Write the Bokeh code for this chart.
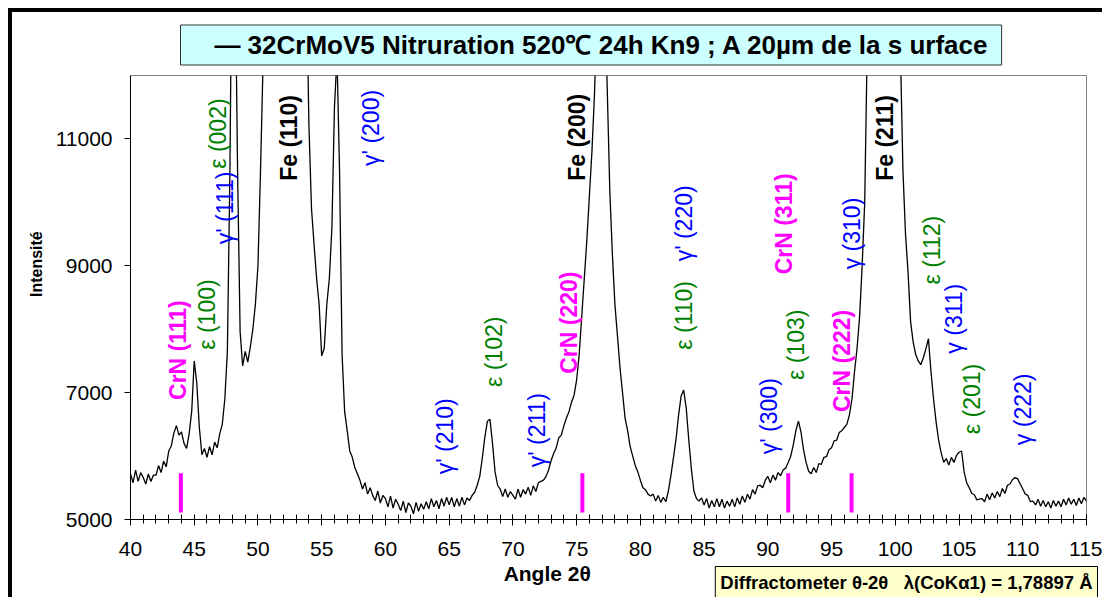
import math
from bokeh.plotting import figure
from bokeh.models import Range1d, FixedTicker, Title, ColumnDataSource
from bokeh.core.properties import value
from bokeh.embed import file_html
from bokeh.resources import INLINE

# ---------------- data ----------------
# intensity every 0.2 degree, one row per degree, from 40.0 to 115.0
ANGLE_FIRST = 40.0
ANGLE_STEP = 0.2
INTENSITY_ROWS = [
    [5720, 5580, 5780, 5600, 5740],   # 40
    [5660, 5560, 5720, 5600, 5700],   # 41
    [5700, 5850, 5740, 5920, 5830],   # 42
    [6080, 6160, 6360, 6480, 6330],   # 43
    [6380, 6200, 6120, 6350, 6700],   # 44
    [7500, 7150, 6450, 6020, 6120],   # 45
    [5980, 6150, 6020, 6220, 6130],   # 46
    [6350, 6500, 6900, 7650, 10500],  # 47
    [15000, 14000, 10500, 7960, 7420],  # 48
    [7650, 7480, 7720, 8000, 8400],   # 49
    [9000, 10500, 12200, 14000, 16500],  # 50
    [19000, 22000, 26000, 30000, 35000],  # 51
    [40000, 45000, 48000, 45000, 40000],  # 52
    [34000, 28000, 22000, 17000, 13500],  # 53
    [11200, 9900, 9340, 8800, 8390],  # 54
    [7580, 7700, 8390, 8800, 9600],   # 55
    [11500, 12300, 10500, 7600, 6700],  # 56
    [6400, 6080, 5980, 5820, 5720],   # 57
    [5620, 5480, 5580, 5400, 5500],   # 58
    [5380, 5300, 5450, 5260, 5380],   # 59
    [5330, 5200, 5370, 5180, 5320],   # 60
    [5240, 5140, 5290, 5110, 5260],   # 61
    [5210, 5090, 5270, 5130, 5250],   # 62
    [5160, 5280, 5170, 5330, 5200],   # 63
    [5300, 5170, 5330, 5210, 5350],   # 64
    [5230, 5350, 5200, 5330, 5210],   # 65
    [5350, 5230, 5340, 5300, 5380],   # 66
    [5430, 5540, 5680, 5970, 6300],   # 67
    [6550, 6580, 6200, 5750, 5540],   # 68
    [5480, 5360, 5480, 5350, 5440],   # 69
    [5380, 5320, 5480, 5350, 5470],   # 70
    [5400, 5510, 5380, 5530, 5440],   # 71
    [5580, 5600, 5620, 5680, 5780],   # 72
    [5930, 6040, 6130, 6290, 6330],   # 73
    [6480, 6600, 6700, 6850, 6960],   # 74
    [7200, 7600, 8200, 8800, 9400],   # 75
    [10100, 10800, 11700, 13000, 15000],  # 76
    [15500, 13500, 11800, 10200, 9200],  # 77
    [8400, 7900, 7400, 7000, 6600],   # 78
    [6400, 6150, 6000, 5850, 5750],   # 79
    [5620, 5500, 5470, 5400, 5370],   # 80
    [5400, 5290, 5380, 5270, 5350],   # 81
    [5280, 5450, 5700, 5980, 6270],   # 82
    [6650, 6950, 7040, 6750, 6250],   # 83
    [5800, 5450, 5330, 5290, 5340],   # 84
    [5230, 5330, 5180, 5300, 5200],   # 85
    [5330, 5200, 5320, 5180, 5290],   # 86
    [5210, 5320, 5200, 5340, 5240],   # 87
    [5370, 5270, 5400, 5320, 5470],   # 88
    [5400, 5530, 5540, 5500, 5620],   # 89
    [5680, 5580, 5700, 5620, 5740],   # 90
    [5690, 5780, 5810, 5900, 6000],   # 91
    [6180, 6400, 6550, 6380, 6100],   # 92
    [5900, 5760, 5720, 5820, 5740],   # 93
    [5880, 5870, 5980, 5990, 6100],   # 94
    [6130, 6240, 6250, 6370, 6400],   # 95
    [6450, 6500, 6650, 6900, 7330],   # 96
    [7700, 8200, 9000, 10000, 12500],  # 97
    [15000, 19000, 24000, 30000, 36000],  # 98
    [40000, 42000, 40000, 35000, 28000],  # 99
    [20000, 15500, 12400, 10500, 9500],  # 100
    [8900, 8120, 7800, 7600, 7500],   # 101
    [7440, 7550, 7690, 7850, 7330],   # 102
    [6900, 6540, 6250, 6050, 5900],   # 103
    [5960, 5860, 5980, 5900, 6010],   # 104
    [6060, 6080, 5750, 5580, 5500],   # 105
    [5410, 5390, 5310, 5320, 5330],   # 106
    [5280, 5400, 5310, 5420, 5340],   # 107
    [5440, 5360, 5490, 5410, 5540],   # 108
    [5560, 5630, 5660, 5640, 5560],   # 109
    [5480, 5400, 5380, 5280, 5290],   # 110
    [5230, 5320, 5210, 5300, 5200],   # 111
    [5280, 5180, 5300, 5210, 5290],   # 112
    [5200, 5320, 5230, 5340, 5240],   # 113
    [5320, 5220, 5340, 5250, 5350],   # 114
    [5290],                            # 115
]

# CrN reference lines (angle), drawn as short magenta bars
CRN_LINES = [43.95, 75.45, 91.6, 96.57]
CRN_LINE_LOW = 5110
CRN_LINE_HIGH = 5730

# peak labels: text, angle, intensity where the (vertical) text starts, phase
PEAK_TEXT = ["CrN (111)", "\u03b5 (100)", "\u03b3' (111)", "\u03b5 (002)", "Fe (110)",
             "\u03b3' (200)", "\u03b3' (210)", "\u03b5 (102)", "\u03b3' (211)", "CrN (220)",
             "Fe (200)", "\u03b5 (110)", "\u03b3' (220)", "\u03b3' (300)", "\u03b5 (103)",
             "CrN (311)", "CrN (222)", "\u03b3 (310)", "Fe (211)", "\u03b5 (112)",
             "\u03b3 (311)", "\u03b5 (201)", "\u03b3 (222)"]
PEAK_X = [43.76, 45.98, 47.43, 46.85, 52.4,
          58.9, 64.7, 68.5, 71.9, 74.4,
          75.0, 83.4, 83.4, 90.1, 92.2,
          91.3, 95.8, 96.6, 99.2, 102.9,
          104.6, 106.0, 110.0]
PEAK_Y = [6885, 7677, 9340, 10530, 10340,
          10575, 5713, 7090, 5824, 7297,
          10340, 7677, 9070, 6030, 7200,
          8865, 6695, 8945, 10340, 8705,
          7615, 6346, 6172]
PEAK_PHASE = ["CrN", "eps", "gam", "eps", "Fe",
              "gam", "gam", "eps", "gam", "CrN",
              "Fe", "eps", "gam", "gam", "eps",
              "CrN", "CrN", "gam", "Fe", "eps",
              "gam", "eps", "gam"]

X_TICKS = [40, 45, 50, 55, 60, 65, 70, 75, 80, 85, 90, 95, 100, 105, 110, 115]
X_MINOR = list(range(40, 116))
Y_TICKS = [5000, 7000, 9000, 11000]

NB = "\u00a0"
TITLE = "\u2014 32CrMoV5 Nitruration 520\u2103 24h Kn9 ; A 20\u00b5m de la s urface"
NOTE = "Diffractometer \u03b8-2\u03b8" + NB * 3 + "\u03bb(CoK\u03b11) = 1,78897 \u00c5"
X_LABEL = "Angle 2\u03b8"
Y_LABEL = "Intensit\u00e9"

# ---------------- build ----------------
FONT = "Liberation Sans"
intensity = [v for row in INTENSITY_ROWS for v in row]
angle = [round(ANGLE_FIRST + ANGLE_STEP * i, 2) for i in range(len(intensity))]

p = figure(width=1094, height=589, output_backend="svg", toolbar_location=None,
           x_range=Range1d(40, 115), y_range=Range1d(5000, 12000),
           min_border_left=118, min_border_right=20, min_border_top=60, min_border_bottom=82)
p.styles = {"margin-left": "8px", "margin-top": "8px",
            "border-left": "4px solid black", "border-top": "4px solid black"}
p.background_fill_color = "white"
p.border_fill_color = "white"
p.outline_line_color = "#808080"
p.outline_line_width = 1
p.xgrid.visible = False
p.ygrid.visible = False

# title box (legend-like)
p.title.text = NB * 4 + TITLE + NB
p.title.align = "left"
p.title.offset = 50
p.title.standoff = 21
p.title.text_font = FONT
p.title.text_font_size = "26px"
p.title.text_font_style = "bold"
p.title.text_color = "black"
p.title.background_fill_color = "#CCFFFF"
p.title.border_line_color = "#333333"
p.title.border_line_width = 1
p.title.padding = 5

p.xaxis.ticker = FixedTicker(ticks=X_TICKS, minor_ticks=X_MINOR)
p.yaxis.ticker = FixedTicker(ticks=Y_TICKS, minor_ticks=[])
for ax in (p.xaxis[0], p.yaxis[0]):
    ax.axis_line_color = "black"
    ax.axis_line_width = 1
    ax.major_tick_line_color = "black"
    ax.minor_tick_line_color = "black"
    ax.major_label_text_font = FONT
    ax.major_label_text_font_size = "21px"
    ax.major_label_text_color = "black"
    ax.axis_label_text_font = FONT
    ax.axis_label_text_font_style = "bold"
    ax.axis_label_text_color = "black"
p.xaxis.major_tick_in = 5
p.xaxis.major_tick_out = 6
p.xaxis.minor_tick_in = 5
p.xaxis.minor_tick_out = 4
p.xaxis.major_label_standoff = 16
p.xaxis.axis_label = X_LABEL + NB * 21
p.xaxis.axis_label_text_font_size = "21px"
p.xaxis.axis_label_standoff = 3
p.yaxis.major_tick_in = 0
p.yaxis.major_tick_out = 6
p.yaxis.minor_tick_in = 0
p.yaxis.minor_tick_out = 0
p.yaxis.major_label_standoff = 12
p.yaxis.axis_label = NB * 15 + Y_LABEL
p.yaxis.axis_label_text_font_size = "16px"
p.yaxis.axis_label_standoff = 8

src = ColumnDataSource(dict(x=angle, y=intensity))
p.line("x", "y", source=src, line_color="black", line_width=1.3)

p.segment(x0=CRN_LINES, x1=CRN_LINES, y0=[CRN_LINE_LOW] * len(CRN_LINES),
          y1=[CRN_LINE_HIGH] * len(CRN_LINES), line_color="#FF00FF", line_width=4)

COLORS = {"CrN": "#FF00FF", "eps": "#008000", "gam": "#0000FF", "Fe": "black"}
for bold in (False, True):
    idx = [i for i, ph in enumerate(PEAK_PHASE) if (ph in ("CrN", "Fe")) == bold]
    s = ColumnDataSource(dict(
        x=[PEAK_X[i] for i in idx], y=[PEAK_Y[i] for i in idx],
        t=[PEAK_TEXT[i] for i in idx], c=[COLORS[PEAK_PHASE[i]] for i in idx]))
    p.text("x", "y", text="t", source=s, angle=math.pi / 2, text_color="c",
           text_align="left", text_baseline="middle",
           text_font=value(FONT), text_font_size="23px",
           text_font_style="bold" if bold else "normal")

# instrument note box, below the axis
note = Title(text=NOTE, align="right", vertical_align="top", offset=-11, standoff=-42,
             text_font=FONT, text_font_size="18.5px", text_font_style="bold",
             text_color="black", background_fill_color="#FFFFCC",
             border_line_color="black", border_line_width=1, padding=5)
p.add_layout(note, "below")

open("out.html", "w").write(file_html(p, INLINE))
